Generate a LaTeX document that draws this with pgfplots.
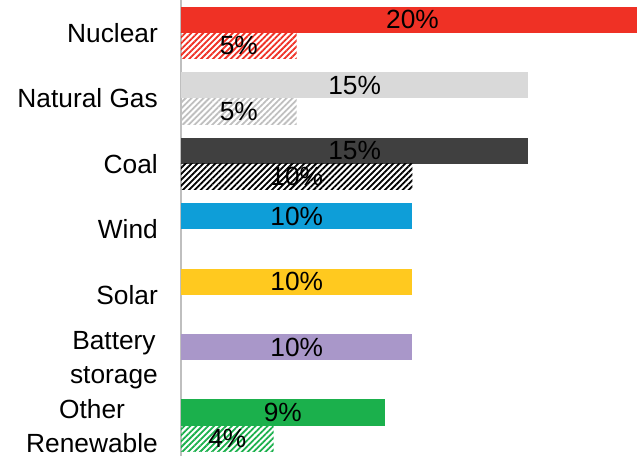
\documentclass[border=0pt]{standalone}
\usepackage{pgfplots}
\pgfplotsset{compat=1.18}
\usetikzlibrary{patterns.meta}
\usepackage{fontspec}
\setmainfont{Liberation Sans}
\definecolor{cNuc}{HTML}{EF3125}
\definecolor{cGas}{HTML}{D9D9D9}
\definecolor{cGasH}{HTML}{BFBFBF}
\definecolor{cCoal}{HTML}{404040}
\definecolor{cWind}{HTML}{0E9ED8}
\definecolor{cSolar}{HTML}{FFC91F}
\definecolor{cBatt}{HTML}{A997C9}
\definecolor{cOther}{HTML}{1BB04C}
\newcommand{\lbl}{\fontsize{26.3bp}{34bp}\selectfont}
\tikzset{hatch/.style={pattern={Lines[angle=45,distance=4.2bp,line width=1.8bp]},pattern color=#1}}
\begin{document}
\begin{tikzpicture}
\begin{axis}[name=ax, scale only axis, width=456bp, height=456bp,
  xmin=0, xmax=19.7, ymin=-0.5, ymax=6.463, y dir=reverse,
  axis x line=none, axis y line=left,
  axis line style={-, draw=black!25, line width=1.5bp},
  ytick={0,1,2,3,4,5,6},
  yticklabels={Nuclear, Natural Gas, Coal, Wind, Solar, {Battery\\storage}, {Other\\Renewable}},
  yticklabel style={font=\lbl, align=center, anchor=east, inner sep=0pt, xshift=-23bp},
  major tick length=0pt,
  xbar, bar width=0.4, bar shift=0pt,
  every node near coord/.append style={anchor=center, font=\lbl, text=black, inner sep=0pt},
]
% solid bars
\addplot[fill=cNuc, draw=none] coordinates {(20,-0.2)};
\addplot[fill=cGas, draw=none] coordinates {(15,0.8)};
\addplot[fill=cCoal, draw=none] coordinates {(15,1.8)};
\addplot[fill=cWind, draw=none] coordinates {(10,2.8)};
\addplot[fill=cSolar, draw=none] coordinates {(10,3.8)};
\addplot[fill=cBatt, draw=none] coordinates {(10,4.8)};
\addplot[fill=cOther, draw=none] coordinates {(8.8,5.8)};
% hatched bars
\addplot[hatch=cNuc, draw=none] coordinates {(5,0.2)};
\addplot[hatch=cGasH, draw=none] coordinates {(5,1.2)};
\addplot[hatch=black, draw=none] coordinates {(10,2.2)};
\addplot[hatch=cOther, draw=none] coordinates {(4,6.2)};
% value labels
\addplot[draw=none, no markers, xbar=false, nodes near coords, point meta=explicit symbolic]
  coordinates {
  (10,-0.2) [20\%]
  (2.5,0.2) [5\%]
  (7.5,0.8) [15\%]
  (2.5,1.2) [5\%]
  (7.5,1.8) [15\%]
  (5,2.2) [10\%]
  (5,2.8) [10\%]
  (5,3.8) [10\%]
  (5,4.8) [10\%]
  (4.4,5.8) [9\%]
  (2,6.2) [4\%]
  };
\end{axis}
\pgfresetboundingbox
\path ([xshift=-181bp]ax.south west) rectangle (ax.north east);
\end{tikzpicture}
\end{document}
